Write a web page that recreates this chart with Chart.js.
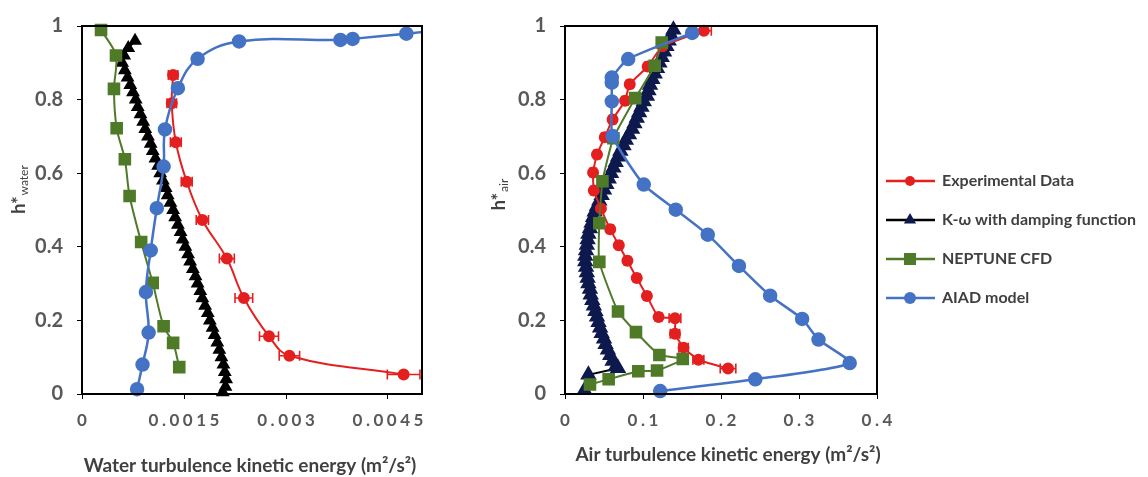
<!DOCTYPE html>
<html>
<head>
<meta charset="utf-8">
<script src="https://cdn.jsdelivr.net/npm/chart.js@4.4.0/dist/chart.umd.min.js"></script>
<style>
  html, body { margin: 0; padding: 0; background: #fff; }
  #wrap { position: relative; width: 1148px; height: 477px; overflow: hidden; }
  canvas { position: absolute; top: 0; }
  #water { left: 0; }
  #air { left: 470px; }
</style>
</head>
<body>
<div id="wrap">
  <canvas id="water" width="470" height="477"></canvas>
  <canvas id="air" width="678" height="477"></canvas>
</div>
<script>
// colours
const RED = '#E3201F', GREEN = '#4F7A28', BLUE = '#4472C4', NAVY = '#0E1A4E';
const TXT = '#404040', TICK = '#595959';
const FONT = 'Lato, "Open Sans", sans-serif';

// ---- water side ----
const waterTicks = [0, 0.0015, 0.003, 0.0045];
const waterExpX = [0.00134, 0.00132, 0.00138, 0.00154, 0.00177, 0.00213, 0.00238, 0.00275, 0.00305, 0.00473];
const waterExpY = [0.867, 0.790, 0.684, 0.577, 0.473, 0.368, 0.261, 0.157, 0.104, 0.053];
const waterExpErr = [0.00007, 0.00007, 0.00008, 0.00008, 0.00009, 0.00011, 0.00013, 0.00014, 0.00015, 0.00024];
const waterKwX = [0.00078, 0.00068, 0.00062, 0.00059, 0.00063, 0.00067, 0.00071, 0.00075, 0.00079, 0.00082,
  0.00086, 0.00090, 0.00093, 0.00097, 0.00101, 0.00104, 0.00108, 0.00112, 0.00115, 0.00119,
  0.00123, 0.00126, 0.00130, 0.00134, 0.00137, 0.00141, 0.00145, 0.00148, 0.00152, 0.00156,
  0.00159, 0.00163, 0.00167, 0.00170, 0.00174, 0.00177, 0.00181, 0.00185, 0.00188, 0.00192,
  0.00195, 0.00199, 0.00202, 0.00205, 0.00208, 0.00210, 0.00212, 0.00211, 0.00207];
const waterKwY = [0.96, 0.94, 0.92, 0.90, 0.88, 0.86, 0.84, 0.82, 0.80, 0.78,
  0.76, 0.74, 0.72, 0.70, 0.68, 0.66, 0.64, 0.62, 0.60, 0.58,
  0.56, 0.54, 0.52, 0.50, 0.48, 0.46, 0.44, 0.42, 0.40, 0.38,
  0.36, 0.34, 0.32, 0.30, 0.28, 0.26, 0.24, 0.22, 0.20, 0.18,
  0.16, 0.14, 0.12, 0.10, 0.08, 0.06, 0.04, 0.02, 0.005];
const waterNepX = [0.00028, 0.00050, 0.00047, 0.00051, 0.00063, 0.00070, 0.00087, 0.00104, 0.00120, 0.00134, 0.00143];
const waterNepY = [0.989, 0.920, 0.829, 0.722, 0.638, 0.538, 0.413, 0.302, 0.184, 0.139, 0.073];
const waterAiadX = [0.00081, 0.00089, 0.00098, 0.00094, 0.00101, 0.00110, 0.00120, 0.00122, 0.00141, 0.00170, 0.00231, 0.00380, 0.00398, 0.00477, 0.00520];
const waterAiadY = [0.013, 0.080, 0.167, 0.277, 0.390, 0.505, 0.618, 0.719, 0.831, 0.911, 0.958, 0.962, 0.965, 0.979, 0.988];

// ---- air side ----
const airTicks = [0, 0.1, 0.2, 0.3, 0.4];
const airExpX = [0.178, 0.125, 0.106, 0.083, 0.077, 0.061, 0.051, 0.041, 0.036, 0.037, 0.046,
  0.058, 0.069, 0.080, 0.092, 0.105, 0.120, 0.141, 0.141, 0.152, 0.171, 0.209];
const airExpY = [0.987, 0.945, 0.890, 0.842, 0.797, 0.746, 0.698, 0.651, 0.602, 0.553, 0.504,
  0.448, 0.404, 0.362, 0.315, 0.266, 0.209, 0.206, 0.164, 0.126, 0.093, 0.069];
const airExpErr = [0.0096, 0.004, 0.004, 0.004, 0.004, 0.004, 0.004, 0.004, 0.004, 0.004, 0.004,
  0.004, 0.004, 0.004, 0.004, 0.004, 0.004, 0.0075, 0.006, 0.006, 0.007, 0.010];
const airKwX = [0.139, 0.136, 0.133, 0.130, 0.127, 0.124, 0.121, 0.118, 0.115, 0.112,
  0.109, 0.107, 0.105, 0.101, 0.098, 0.095, 0.092, 0.089, 0.086, 0.082,
  0.078, 0.075, 0.071, 0.068, 0.065, 0.062, 0.059, 0.056, 0.053, 0.050,
  0.047, 0.044, 0.041, 0.038, 0.036, 0.034, 0.032, 0.030, 0.029, 0.028,
  0.027, 0.026, 0.026, 0.027, 0.028, 0.029, 0.030, 0.032, 0.033, 0.035,
  0.037, 0.039, 0.041, 0.043, 0.045, 0.047, 0.050, 0.052, 0.055, 0.058,
  0.061, 0.065, 0.068, 0.030, 0.025];
const airKwY = [0.99, 0.975, 0.96, 0.945, 0.93, 0.915, 0.90, 0.885, 0.87, 0.855,
  0.84, 0.825, 0.81, 0.795, 0.78, 0.765, 0.75, 0.735, 0.72, 0.705,
  0.69, 0.675, 0.66, 0.645, 0.63, 0.615, 0.60, 0.585, 0.57, 0.555,
  0.54, 0.525, 0.51, 0.495, 0.48, 0.465, 0.45, 0.435, 0.42, 0.405,
  0.39, 0.375, 0.36, 0.345, 0.33, 0.315, 0.30, 0.285, 0.27, 0.255,
  0.24, 0.225, 0.21, 0.195, 0.18, 0.165, 0.15, 0.135, 0.12, 0.105,
  0.09, 0.075, 0.07, 0.052, 0.01];
const airNepX = [0.124, 0.115, 0.090, 0.062, 0.048, 0.044, 0.044, 0.068, 0.091, 0.121, 0.151, 0.118, 0.094, 0.056, 0.032];
const airNepY = [0.955, 0.892, 0.804, 0.695, 0.578, 0.464, 0.359, 0.224, 0.168, 0.106, 0.095, 0.064, 0.062, 0.040, 0.026];
const airAiadX = [0.163, 0.081, 0.060, 0.060, 0.060, 0.061, 0.101, 0.142, 0.183, 0.223, 0.263, 0.304, 0.325, 0.365, 0.244, 0.122];
const airAiadY = [0.981, 0.910, 0.860, 0.846, 0.795, 0.701, 0.569, 0.501, 0.433, 0.348, 0.267, 0.204, 0.148, 0.084, 0.040, 0.008];

const yTicks = [0, 0.2, 0.4, 0.6, 0.8, 1];

const pts = (xs, ys) => xs.map((x, i) => ({ x, y: ys[i] }));

// horizontal error bars, drawn under the markers
const errorBars = {
  id: 'errorBars',
  beforeDatasetsDraw(chart) {
    const ctx = chart.ctx, xs = chart.scales.x, ys = chart.scales.y;
    chart.data.datasets.forEach(ds => {
      if (!ds.errX) return;
      ctx.save();
      ctx.strokeStyle = ds.borderColor;
      ctx.lineWidth = 1.6;
      ds.data.forEach((p, i) => {
        const e = ds.errX[i];
        const a = xs.getPixelForValue(p.x - e), b = xs.getPixelForValue(p.x + e);
        const y = ys.getPixelForValue(p.y);
        ctx.beginPath();
        ctx.moveTo(a, y); ctx.lineTo(b, y);
        ctx.moveTo(a, y - 5); ctx.lineTo(a, y + 5);
        ctx.moveTo(b, y - 5); ctx.lineTo(b, y + 5);
        ctx.stroke();
      });
      ctx.restore();
    });
  }
};

// letter-spaced text, centred on x
function spacedText(ctx, str, cx, y, gap) {
  const ws = [...str].map(ch => ctx.measureText(ch).width);
  const total = ws.reduce((a, b) => a + b, 0) + gap * (ws.length - 1);
  let x = cx - total / 2;
  [...str].forEach((ch, i) => { ctx.fillText(ch, x, y); x += ws[i] + gap; });
}

// box, x tick labels + axis titles
const frame = {
  id: 'frame',
  afterDatasetsDraw(chart) {
    const ctx = chart.ctx, a = chart.chartArea;
    ctx.save();
    ctx.strokeStyle = '#000';
    ctx.lineWidth = 2;
    ctx.strokeRect(a.left, a.top, a.right - a.left, a.bottom - a.top);
    ctx.restore();
  },
  afterDraw(chart, args, o) {
    const ctx = chart.ctx, xs = chart.scales.x;
    ctx.save();
    // x tick labels
    ctx.fillStyle = TICK;
    ctx.font = 'bold 17px ' + FONT;
    ctx.textAlign = 'left';
    ctx.textBaseline = 'middle';
    o.ticks.forEach(v => spacedText(ctx, String(v), xs.getPixelForValue(v), 421, 3.5));
    // x title
    ctx.fillStyle = TXT;
    ctx.font = 'bold 19px ' + FONT;
    ctx.textAlign = 'center';
    ctx.fillText(o.xTitle, o.xTitleX, o.xTitleY);
    // y title with subscript
    ctx.translate(o.yTitleX, o.yTitleY);
    ctx.rotate(-Math.PI / 2);
    ctx.textAlign = 'left';
    ctx.textBaseline = 'alphabetic';
    ctx.font = 'bold 18px ' + FONT;
    const w1 = ctx.measureText('h*').width;
    ctx.font = '12px ' + FONT;
    const w2 = ctx.measureText(o.ySub).width;
    const s = -(w1 + w2) / 2;
    ctx.font = 'bold 18px ' + FONT;
    ctx.fillText('h*', s, 0);
    ctx.font = '12px ' + FONT;
    ctx.fillText(o.ySub, s + w1 + 1, 3);
    ctx.restore();
  }
};

// legend with line through marker
function marker(ctx, style, x, y, r) {
  ctx.beginPath();
  if (style === 'circle') ctx.arc(x, y, r, 0, Math.PI * 2);
  else if (style === 'rect') ctx.rect(x - r, y - r, 2 * r, 2 * r);
  else { ctx.moveTo(x, y - r); ctx.lineTo(x + r * 0.87, y + r * 0.5); ctx.lineTo(x - r * 0.87, y + r * 0.5); ctx.closePath(); }
  ctx.fill();
}
const legendItems = [
  { text: 'Experimental Data', line: RED, fill: RED, style: 'circle', r: 5 },
  { text: 'K-ω with damping function', line: '#000', fill: NAVY, style: 'triangle', r: 7 },
  { text: 'NEPTUNE CFD', line: GREEN, fill: GREEN, style: 'rect', r: 6 },
  { text: 'AIAD model', line: BLUE, fill: BLUE, style: 'circle', r: 6 }
];
const sideLegend = {
  id: 'sideLegend',
  afterDraw(chart) {
    const ctx = chart.ctx;
    ctx.save();
    legendItems.forEach((it, i) => {
      const y = 181 + i * 39;
      ctx.strokeStyle = it.line;
      ctx.lineWidth = 2.5;
      ctx.beginPath(); ctx.moveTo(416, y); ctx.lineTo(465, y); ctx.stroke();
      ctx.fillStyle = it.fill;
      marker(ctx, it.style, 440, y, it.r);
      ctx.fillStyle = TXT;
      ctx.font = 'bold 16px ' + FONT;
      ctx.textBaseline = 'middle';
      ctx.fillText(it.text, 472, y);
    });
    ctx.restore();
  }
};

function options(xMax, xTicks, yWidth, padRight, frameOpts) {
  return {
    responsive: false,
    animation: false,
    layout: { padding: { left: 0, right: padRight, top: 19, bottom: 0 } },
    plugins: { legend: { display: false }, tooltip: { enabled: false }, frame: frameOpts },
    scales: {
      x: {
        type: 'linear', min: 0, max: xMax,
        afterBuildTicks: s => { s.ticks = xTicks.map(v => ({ value: v })); },
        afterFit: s => { s.height = 83; },
        border: { display: true, color: '#000', width: 2 },
        grid: { drawOnChartArea: false, drawTicks: true, tickLength: 5, color: '#000', lineWidth: 1 },
        ticks: { display: false }
      },
      y: {
        type: 'linear', min: 0, max: 1,
        afterBuildTicks: s => { s.ticks = yTicks.map(v => ({ value: v })); },
        afterFit: s => { s.width = yWidth; },
        border: { display: true, color: '#000', width: 2 },
        grid: { drawOnChartArea: false, drawTicks: true, tickLength: 5, color: '#000', lineWidth: 1 },
        ticks: {
          padding: 14, color: TICK,
          font: { family: FONT, size: 20, weight: 'bold' },
          callback: v => String(v)
        }
      }
    }
  };
}

function sets(expX, expY, expErr, kwX, kwY, kwFill, kwR, nepX, nepY, aiadX, aiadY, isWater) {
  return [
    {
      label: 'Experimental Data', data: pts(expX, expY), errX: expErr, showLine: true,
      borderColor: RED, backgroundColor: RED, borderWidth: 2, pointRadius: 5, pointHoverRadius: 5,
      pointStyle: 'circle', tension: isWater ? 0.4 : 0.15, order: 3, clip: false
    },
    {
      label: 'K-ω with damping function', data: pts(kwX, kwY), showLine: true,
      borderColor: '#000', backgroundColor: kwFill, pointBorderColor: kwFill, borderWidth: 2,
      pointRadius: kwR, pointHoverRadius: kwR, pointStyle: 'triangle', tension: 0, order: 4, clip: false
    },
    {
      label: 'NEPTUNE CFD', data: pts(nepX, nepY), showLine: true,
      borderColor: GREEN, backgroundColor: GREEN, borderWidth: 2, pointRadius: 7.5, pointHoverRadius: 7.5,
      pointStyle: 'rect', tension: isWater ? 0.3 : 0.15, order: 2, clip: false
    },
    {
      label: 'AIAD model', data: pts(aiadX, aiadY), showLine: true,
      borderColor: BLUE, backgroundColor: BLUE, borderWidth: 2.5,
      pointRadius: c => (c.raw && c.raw.x > (isWater ? 0.005 : 0.4)) ? 0 : 6, pointHoverRadius: 6,
      pointStyle: 'circle', tension: isWater ? 0.4 : 0.2, order: 1,
      clip: { left: 10, top: 10, right: 0, bottom: 10 }
    }
  ];
}

new Chart(document.getElementById('water'), {
  type: 'scatter',
  data: { datasets: sets(waterExpX, waterExpY, waterExpErr, waterKwX, waterKwY, '#000', 6,
    waterNepX, waterNepY, waterAiadX, waterAiadY, true) },
  options: options(0.005, waterTicks, 82, 48, {
    ticks: waterTicks,
    xTitle: 'Water turbulence kinetic energy (m²/s²)', xTitleX: 250, xTitleY: 466,
    ySub: 'water', yTitleX: 25, yTitleY: 190
  }),
  plugins: [errorBars, frame]
});

new Chart(document.getElementById('air'), {
  type: 'scatter',
  data: { datasets: sets(airExpX, airExpY, airExpErr, airKwX, airKwY, NAVY, 7.5,
    airNepX, airNepY, airAiadX, airAiadY, false) },
  options: options(0.4, airTicks, 95, 271, {
    ticks: airTicks,
    xTitle: 'Air turbulence kinetic energy (m²/s²)', xTitleX: 258, xTitleY: 455,
    ySub: 'air', yTitleX: 35, yTitleY: 195
  }),
  plugins: [errorBars, frame, sideLegend]
});
</script>
</body>
</html>
